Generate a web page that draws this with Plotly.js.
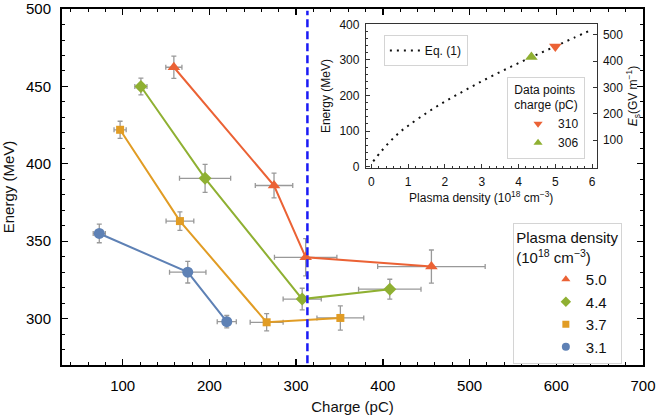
<!DOCTYPE html>
<html><head><meta charset="utf-8">
<script src="https://cdn.plot.ly/plotly-3.0.1.min.js"></script>
<style>html,body{margin:0;padding:0;background:#fff}#chart{width:656px;height:416px}</style>
</head><body><div id="chart"></div>
<script>
// ---- Main panel: energy vs charge, per plasma density ----
const charge31 = [73, 175, 220];
const energy31 = [355, 330, 298];
const chargeErr31 = [7, 21, 11];
const energyErr31 = [6, 7, 4];

const charge37 = [97, 166, 266, 351];
const energy37 = [422, 363, 297.6, 300.4];
const chargeErr37 = [7, 16, 19, 27];
const energyErr37 = [5.5, 6, 5.6, 7.8];

const charge44 = [121, 195, 307, 408];
const energy44 = [450, 390.6, 312.6, 319];
const chargeErr44 = [7, 29.5, 22, 36];
const energyErr44 = [5.4, 9, 7, 6.4];

const charge50 = [159, 274.5, 311, 456];
const energy50 = [462.4, 386, 339.6, 333.6];
const chargeErr50 = [9.3, 21.6, 36, 62];
const energyErr50 = [7.2, 8, 12, 10.7];

const densityLabels = ['5.0', '4.4', '3.7', '3.1'];
const thresholdCharge = 313;

// ---- Inset: Eq. (1) curve and data points ----
const eqDensity = [0.05, 0.25, 0.5, 0.75, 1.0, 1.5, 2.0, 2.5, 3.0, 3.5, 4.0, 4.5, 5.0, 5.5, 6.0];
const eqEnergy  = [15, 41, 70, 95, 115, 151, 183, 212, 240, 266, 291, 315, 338, 362, 385];
const pointDensity310 = [5.0];
const pointEnergy310 = [338];
const pointDensity306 = [4.35];
const pointEnergy306 = [308];
const pointLabels = ['310', '306'];
const fieldTicks = [100, 200, 300, 400, 500];

const C = {b:'#5E81B5', o:'#E19C24', g:'#8FB032', r:'#EB6235'};
const errStyle = (arr) => ({type:'data', array:arr, color:'#999999', thickness:1.3, width:2.5});

function series(x, y, ex, ey, color, symbol, size) {
  return {x:x, y:y, mode:'lines+markers', xaxis:'x', yaxis:'y', showlegend:false,
    line:{color:color, width:2}, marker:{symbol:symbol, size:size, color:color},
    error_x:errStyle(ex), error_y:errStyle(ey)};
}
function legendItem(name, color, symbol, size, legend) {
  return {x:[null], y:[null], mode:'markers', name:name, legend:legend, xaxis:'x', yaxis:'y',
    marker:{symbol:symbol, size:size, color:color}, hoverinfo:'skip'};
}

const traces = [
  series(charge31, energy31, chargeErr31, energyErr31, C.b, 'circle', 11),
  series(charge37, energy37, chargeErr37, energyErr37, C.o, 'square', 8),
  series(charge44, energy44, chargeErr44, energyErr44, C.g, 'diamond', 10),
  series(charge50, energy50, chargeErr50, energyErr50, C.r, 'triangle-up', 11),
  legendItem(densityLabels[0], C.r, 'triangle-up', 8, 'legend'),
  legendItem(densityLabels[1], C.g, 'diamond', 8, 'legend'),
  legendItem(densityLabels[2], C.o, 'square', 7, 'legend'),
  legendItem(densityLabels[3], C.b, 'circle', 8, 'legend'),
  {x:eqDensity, y:eqEnergy, xaxis:'x2', yaxis:'y2', mode:'lines', name:'Eq. (1)', legend:'legend2',
    line:{color:'#111', width:2, dash:'2px,5px', shape:'spline'}},
  {x:pointDensity310, y:pointEnergy310, xaxis:'x2', yaxis:'y2', mode:'markers', showlegend:false,
    marker:{symbol:'triangle-down', size:11, color:C.r}},
  {x:pointDensity306, y:pointEnergy306, xaxis:'x2', yaxis:'y2', mode:'markers', showlegend:false,
    marker:{symbol:'triangle-up', size:11, color:C.g}},
  {x:[null], y:[null], xaxis:'x2', yaxis:'y2', mode:'markers', name:pointLabels[0], legend:'legend3',
    marker:{symbol:'triangle-down', size:8, color:C.r}},
  {x:[null], y:[null], xaxis:'x2', yaxis:'y2', mode:'markers', name:pointLabels[1], legend:'legend3',
    marker:{symbol:'triangle-up', size:8, color:C.g}},
  {x:[null], y:[null], xaxis:'x2', yaxis:'y3', mode:'markers', showlegend:false}
];

const F = 'Liberation Sans, Arial, Helvetica, sans-serif';
const mainAxis = {
  showline:true, linewidth:2, linecolor:'#000', mirror:'allticks', showgrid:false, zeroline:false,
  ticks:'inside', ticklen:6, tickwidth:1.3, tickcolor:'#000', tickfont:{size:15, color:'#000'},
  ticklabelstandoff:6, ticklabeloverflow:'allow'
};
const insetAxis = {
  showline:true, linewidth:1, linecolor:'#333', showgrid:false, zeroline:false,
  ticks:'inside', ticklen:4, tickwidth:1, tickcolor:'#333', tickfont:{size:12, color:'#111'},
  ticklabelstandoff:3
};

const layout = {
  width:656, height:416,
  margin:{l:62, r:13, t:9, b:51},
  paper_bgcolor:'#fff', plot_bgcolor:'#fff',
  font:{family:F, color:'#111'},
  xaxis:Object.assign({}, mainAxis, {
    domain:[0,1], anchor:'y', range:[30,700], tick0:0, dtick:100,
    minor:{dtick:20, ticks:'inside', ticklen:3, tickcolor:'#000', tickwidth:1},
    title:{text:'Charge (pC)', standoff:8, font:{size:15, color:'#111'}}
  }),
  yaxis:Object.assign({}, mainAxis, {
    domain:[0,1], anchor:'x', range:[270,500.05], tick0:0, dtick:50,
    minor:{dtick:10, ticks:'inside', ticklen:3, tickcolor:'#000', tickwidth:1},
    title:{text:'Energy (MeV)', standoff:8, font:{size:15, color:'#111'}}
  }),
  xaxis2:Object.assign({}, insetAxis, {
    domain:[0.523,0.920], anchor:'y2', range:[-0.15,6.12], tick0:0, dtick:1, mirror:true,
    minor:{dtick:0.2, ticks:'inside', ticklen:2, tickcolor:'#333', tickwidth:1},
    title:{text:'Plasma density (10<sup>18</sup> cm<sup>−3</sup>)', standoff:5, font:{size:12, color:'#111'}}
  }),
  yaxis2:Object.assign({}, insetAxis, {
    domain:[0.554,0.957], anchor:'x2', range:[-3,400], tick0:0, dtick:100,
    minor:{dtick:20, ticks:'inside', ticklen:2, tickcolor:'#333', tickwidth:1},
    title:{text:'Energy (MeV)', standoff:6, font:{size:12, color:'#111'}}
  }),
  yaxis3:Object.assign({}, insetAxis, {
    overlaying:'y2', anchor:'x2', side:'right', range:[-5,540], tickvals:fieldTicks,
    title:{text:'<i>E</i><sub>s</sub>(GV m<sup>−1</sup>)', standoff:6, font:{size:12, color:'#111'}}
  }),
  shapes:[{type:'line', xref:'x', yref:'paper', x0:thresholdCharge, x1:thresholdCharge, y0:0.005, y1:0.995,
    line:{color:'#1b1bf5', width:2.5, dash:'8px,4px'}}],
  legend:{x:0.776, y:0.399, xanchor:'left', yanchor:'top', bgcolor:'#fff', bordercolor:'#d4d4d4', borderwidth:1,
    font:{size:15, color:'#111'}, itemwidth:30, indentation:32, tracegroupgap:0,
    title:{text:'Plasma density<br>(10<sup>18</sup> cm<sup>−3</sup>)', side:'top center', font:{size:15, color:'#111'}}},
  legend2:{x:0.554, y:0.927, xanchor:'left', yanchor:'top', bgcolor:'#fff', bordercolor:'#d4d4d4', borderwidth:1,
    font:{size:12, color:'#111'}, itemwidth:30},
  legend3:{x:0.766, y:0.809, xanchor:'left', yanchor:'top', bgcolor:'#fff', bordercolor:'#d4d4d4', borderwidth:1,
    font:{size:12, color:'#111'}, itemwidth:30, indentation:10,
    title:{text:'Data points<br>charge (pC)', side:'top center', font:{size:12, color:'#111'}}}
};

Plotly.newPlot('chart', traces, layout, {displayModeBar:false, staticPlot:true});
</script></body></html>
